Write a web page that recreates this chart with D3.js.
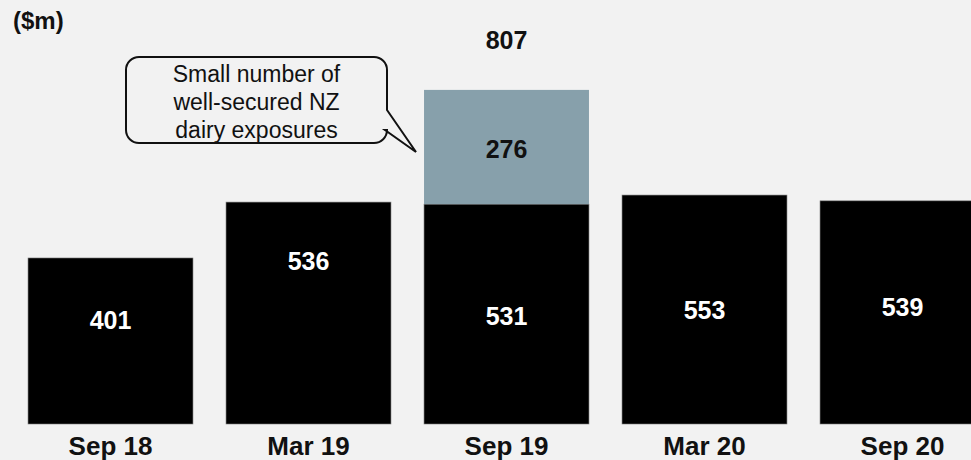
<!DOCTYPE html>
<html>
<head>
    <meta charset="utf-8">
    <script src="https://d3js.org/d3.v7.min.js"></script>
    <style>
        body { margin: 0; background: #f2f2f2; }
        text { font-family: "Liberation Sans", Arial, sans-serif; }
    </style>
</head>
<body>
    <div id="chart"></div>
    <script>
        // data
        var periods = ["Sep 18", "Mar 19", "Sep 19", "Mar 20", "Sep 20"];
        var baseValues = [401, 536, 531, 553, 539];
        var dairyValues = [0, 0, 276, 0, 0];
        var totalLabels = ["", "", "807", "", ""];
        var unitLabel = "($m)";
        var calloutLines = ["Small number of", "well-secured NZ", "dairy exposures"];

        // label nudges (px) for values inside the black bars
        var labelShift = [-21, -52, 2, 0, -5];

        var W = 971, H = 460;

        var svg = d3.select("#chart")
            .append("svg")
            .attr("width", W)
            .attr("height", H);

        svg.append("rect")
            .attr("width", W).attr("height", H)
            .attr("fill", "#f2f2f2");

        var x = d3.scaleBand()
            .domain(periods)
            .range([11.5, 1001.5])
            .paddingInner(0.167)
            .paddingOuter(0.0835);

        var y = d3.scaleLinear()
            .domain([0, 1000])
            .range([424, 10]);

        var rows = periods.map(function (p, i) {
            return { period: p, base: baseValues[i], dairy: dairyValues[i], total: totalLabels[i], i: i };
        });

        // black base bars
        svg.selectAll("rect.base")
            .data(rows)
            .enter()
            .append("rect")
            .attr("class", "base")
            .attr("x", function (d) { return x(d.period); })
            .attr("y", function (d) { return y(d.base); })
            .attr("width", x.bandwidth())
            .attr("height", function (d) { return y(0) - y(d.base); })
            .attr("fill", "#000")
            .attr("stroke", "#777")
            .attr("stroke-width", 0.6);

        // dairy segment
        svg.selectAll("rect.dairy")
            .data(rows.filter(function (d) { return d.dairy > 0; }))
            .enter()
            .append("rect")
            .attr("class", "dairy")
            .attr("x", function (d) { return x(d.period); })
            .attr("y", function (d) { return y(d.base + d.dairy); })
            .attr("width", x.bandwidth())
            .attr("height", function (d) { return y(d.base) - y(d.base + d.dairy); })
            .attr("fill", "#87a0ab");

        // value labels in base bars
        svg.selectAll("text.baseLbl")
            .data(rows)
            .enter()
            .append("text")
            .attr("x", function (d) { return x(d.period) + x.bandwidth() / 2; })
            .attr("y", function (d) { return (y(0) + y(d.base)) / 2 + labelShift[d.i] + 9; })
            .attr("text-anchor", "middle")
            .attr("font-size", "25px")
            .attr("font-weight", "bold")
            .attr("fill", "#fff")
            .text(function (d) { return d.base; });

        svg.selectAll("text.dairyLbl")
            .data(rows.filter(function (d) { return d.dairy > 0; }))
            .enter()
            .append("text")
            .attr("x", function (d) { return x(d.period) + x.bandwidth() / 2; })
            .attr("y", function (d) { return (y(d.base) + y(d.base + d.dairy)) / 2 + 11; })
            .attr("text-anchor", "middle")
            .attr("font-size", "25px")
            .attr("font-weight", "bold")
            .attr("fill", "#111")
            .text(function (d) { return d.dairy; });

        // totals above
        svg.selectAll("text.totalLbl")
            .data(rows.filter(function (d) { return d.total !== ""; }))
            .enter()
            .append("text")
            .attr("x", function (d) { return x(d.period) + x.bandwidth() / 2; })
            .attr("y", function (d) { return y(d.base + d.dairy) - 41; })
            .attr("text-anchor", "middle")
            .attr("font-size", "25px")
            .attr("font-weight", "bold")
            .attr("fill", "#111")
            .text(function (d) { return d.total; });

        // category axis
        var xAxis = svg.append("g")
            .attr("transform", "translate(0," + y(0) + ")")
            .call(d3.axisBottom(x).tickSize(0).tickPadding(0));
        xAxis.select(".domain").remove();
        xAxis.selectAll("text")
            .attr("dy", null)
            .attr("y", 31)
            .attr("font-size", "26px")
            .attr("font-weight", "bold")
            .attr("font-family", "'Liberation Sans', Arial, sans-serif")
            .attr("fill", "#111");

        // unit label
        svg.append("text")
            .attr("x", 13)
            .attr("y", 29)
            .attr("font-size", "24px")
            .attr("font-weight", "bold")
            .attr("fill", "#111")
            .text(unitLabel);

        // callout bubble
        var bx0 = 126, by0 = 57, bx1 = 387, by1 = 143, r = 13;
        var tipX = 416, tipY = 152;
        var path = d3.path();
        path.moveTo(bx0 + r, by0);
        path.lineTo(bx1 - r, by0);
        path.arcTo(bx1, by0, bx1, by0 + r, r);
        path.lineTo(bx1, 110);
        path.lineTo(tipX, tipY);
        path.lineTo(bx1 - 2, 130);
        path.lineTo(bx1, by1 - r);
        path.arcTo(bx1, by1, bx1 - r, by1, r);
        path.lineTo(bx0 + r, by1);
        path.arcTo(bx0, by1, bx0, by1 - r, r);
        path.lineTo(bx0, by0 + r);
        path.arcTo(bx0, by0, bx0 + r, by0, r);
        path.closePath();

        svg.append("path")
            .attr("d", path.toString())
            .attr("fill", "#f2f2f2")
            .attr("stroke", "#111")
            .attr("stroke-width", 2);

        svg.selectAll("text.callout")
            .data(calloutLines)
            .enter()
            .append("text")
            .attr("x", (bx0 + bx1) / 2)
            .attr("y", function (d, i) { return 82 + i * 28; })
            .attr("text-anchor", "middle")
            .attr("font-size", "23px")
            .attr("fill", "#111")
            .text(function (d) { return d; });
    </script>
</body>
</html>
